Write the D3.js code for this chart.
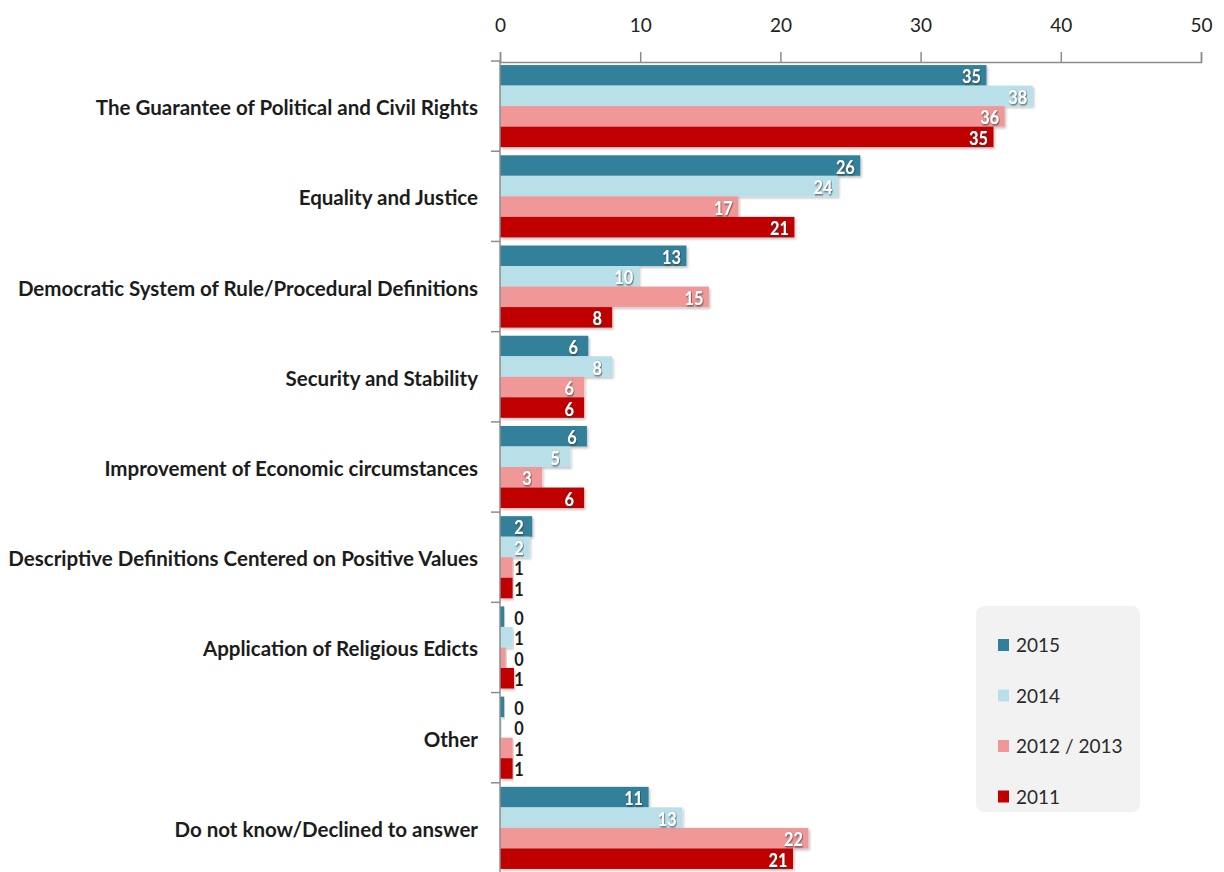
<!DOCTYPE html>
<html>
<head>
<meta charset="utf-8">
<script src="https://cdn.jsdelivr.net/npm/d3@7"></script>
<style>
  html, body { margin: 0; padding: 0; background: #fff; }
  svg { display: block; }
  .cat { font-family: Lato, "Open Sans", sans-serif; font-weight: bold; font-size: 20.5px; fill: #1c1c1c; }
  .tick text { font-family: Lato, "Open Sans", sans-serif; font-size: 19px; fill: #222; }
  .val { font-family: Lato, "Open Sans", sans-serif; font-weight: bold; font-size: 18.5px; }
  .leg { font-family: Lato, "Open Sans", sans-serif; font-size: 19px; fill: #2a2a2a; }
</style>
</head>
<body>
<svg id="chart" width="1224" height="872"></svg>
<script>
// Definitions of democracy, share of respondents (%) by survey wave
const categories = [
  "The Guarantee of Political and Civil Rights",
  "Equality and Justice",
  "Democratic System of Rule/Procedural Definitions",
  "Security and Stability",
  "Improvement of Economic circumstances",
  "Descriptive Definitions Centered on Positive Values",
  "Application of Religious Edicts",
  "Other",
  "Do not know/Declined to answer "
];
const seriesNames = ["2015", "2014", "2012 / 2013", "2011"];
const values2015 = [34.7, 25.7, 13.3, 6.3, 6.2, 2.3, 0.3, 0.3, 10.6];
const values2014 = [38.0, 24.1, 9.9, 8.0, 5.0, 2.1, 0.9, 0.1, 13.0];
const values2012 = [36.0, 17.0, 14.9, 6.0, 3.0, 0.9, 0.4, 0.9, 22.0];
const values2011 = [35.2, 21.0, 8.0, 6.0, 6.0, 0.9, 1.0, 0.9, 20.9];
const xTicks = [0, 10, 20, 30, 40, 50];
const colors = ["#31809a", "#b9dfe9", "#f09797", "#c00000"];

const seriesValues = [values2015, values2014, values2012, values2011];

const svg = d3.select("#chart");
const defs = svg.append("defs");
const sh = defs.append("filter").attr("id", "barShadow")
  .attr("x", "-5%").attr("y", "-20%").attr("width", "115%").attr("height", "160%");
sh.append("feDropShadow").attr("dx", 1.5).attr("dy", 2).attr("stdDeviation", 1.2)
  .attr("flood-color", "#000").attr("flood-opacity", 0.22);
const tsh = defs.append("filter").attr("id", "textShadow")
  .attr("x", "-30%").attr("y", "-30%").attr("width", "160%").attr("height", "160%");
tsh.append("feDropShadow").attr("dx", 0.8).attr("dy", 1).attr("stdDeviation", 0.8)
  .attr("flood-color", "#333").attr("flood-opacity", 0.85);

const x = d3.scaleLinear().domain([0, 50]).range([500, 1201]);
const y0 = d3.scaleBand().domain(categories).range([61, 873])
  .paddingInner(0.09).paddingOuter(0.045);
const y1 = d3.scaleBand().domain(seriesNames).range([0, y0.bandwidth()]);

// top value axis
const xAxis = svg.append("g").attr("transform", "translate(0,62)")
  .call(d3.axisTop(x).tickValues(xTicks).tickSize(10).tickPadding(20));
xAxis.select(".domain").attr("stroke", "#8c8c8c").attr("stroke-width", 1.5);
xAxis.selectAll(".tick line").attr("stroke", "#8c8c8c").attr("stroke-width", 1.5);

const rows = [];
categories.forEach((c, i) => {
  seriesNames.forEach((s, j) => rows.push({ cat: c, series: s, idx: j, value: seriesValues[j][i] }));
});

// bars
svg.append("g").selectAll("rect").data(rows).join("rect")
  .attr("x", x(0))
  .attr("y", d => y0(d.cat) + y1(d.series))
  .attr("width", d => x(d.value) - x(0))
  .attr("height", y1.bandwidth())
  .attr("fill", d => colors[d.idx])
  .attr("filter", "url(#barShadow)");

// value labels, condensed a little
const fmt = d3.format(".0f");
const valSquash = 0.88;
svg.append("g").selectAll("text").data(rows).join("text")
  .attr("class", "val")
  .attr("text-anchor", "middle")
  .attr("transform", d => {
    const cx = Math.max(x(d.value) - 15, 519);
    const cy = y0(d.cat) + y1(d.series) + y1.bandwidth() / 2 + 8;
    return `translate(${cx},${cy}) scale(${valSquash},1)`;
  })
  .attr("fill", d => Math.round(d.value) >= 2 ? "#ffffff" : "#1a1a1a")
  .attr("filter", d => Math.round(d.value) >= 2 ? "url(#textShadow)" : null)
  .text(d => fmt(d.value));

// category axis
const yAxisG = svg.append("g");
yAxisG.append("line").attr("x1", x(0)).attr("x2", x(0)).attr("y1", 61).attr("y2", 873)
  .attr("stroke", "#8c8c8c").attr("stroke-width", 1.5);
const step = y0.step();
const seps = d3.range(categories.length + 1).map(i => 61 + i * step);
yAxisG.selectAll("line.sep").data(seps).join("line").attr("class", "sep")
  .attr("x1", x(0) - 9).attr("x2", x(0)).attr("y1", d => d).attr("y2", d => d)
  .attr("stroke", "#8c8c8c").attr("stroke-width", 1.5);

// category labels: narrow face, the longest one spans the space left of the axis
const catLabels = svg.append("g").selectAll("text").data(categories).join("text")
  .attr("class", "cat")
  .attr("text-anchor", "end")
  .text(d => d);
let widest = 0;
catLabels.each(function () { widest = Math.max(widest, this.getComputedTextLength()); });
const catSquash = 470 / widest;
catLabels.attr("transform", d =>
  `translate(478,${y0(d) + y0.bandwidth() / 2 + 9}) scale(${catSquash},1)`);

// legend
const leg = svg.append("g");
leg.append("rect").attr("x", 976).attr("y", 606).attr("width", 164).attr("height", 206)
  .attr("rx", 8).attr("fill", "#f2f2f2");
const legItems = leg.selectAll("g").data(seriesNames).join("g")
  .attr("transform", (d, i) => `translate(998,${645 + i * 50.5})`);
legItems.append("rect").attr("x", 0).attr("y", -6).attr("width", 11).attr("height", 12)
  .attr("fill", (d, i) => colors[i]);
legItems.append("text").attr("class", "leg").attr("x", 18).attr("y", 7).text(d => d);
</script>
</body>
</html>
